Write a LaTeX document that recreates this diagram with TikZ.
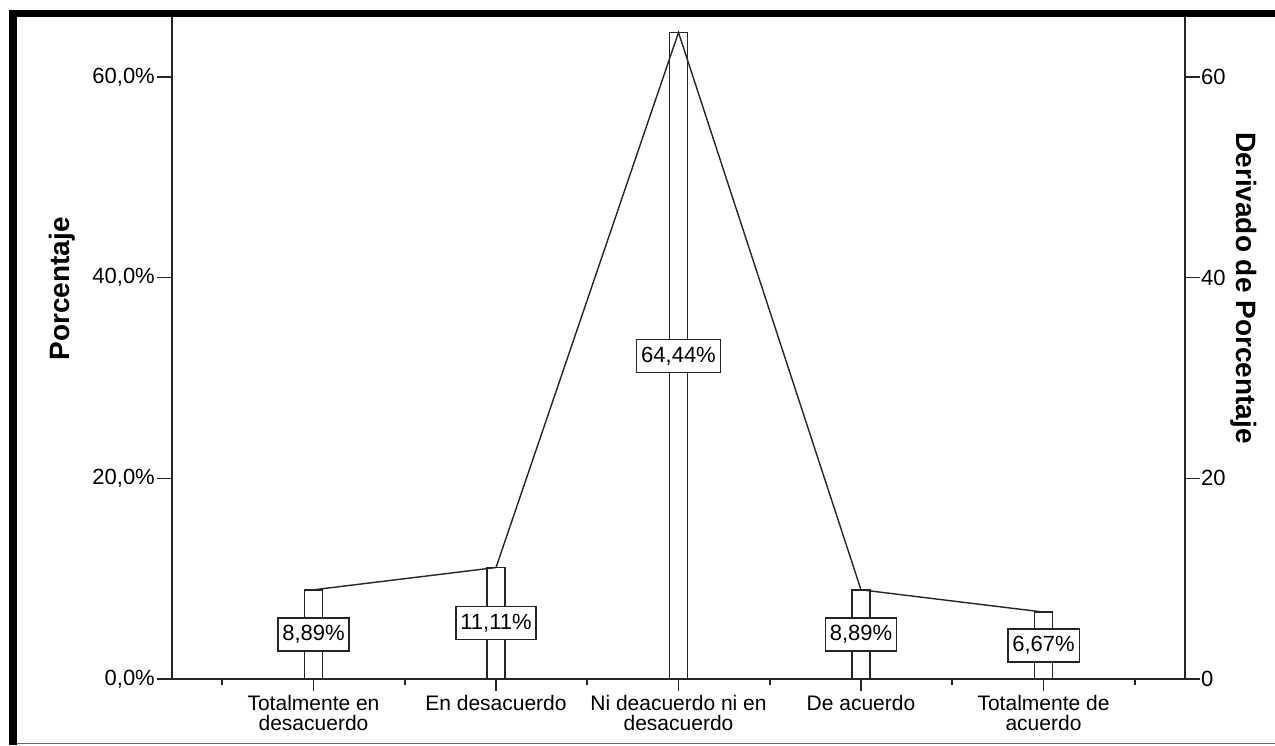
\documentclass[tikz,border=0pt]{standalone}
\usepackage{fontspec}
\setmainfont{Liberation Sans}
\begin{document}
\begin{tikzpicture}[x=1pt,y=-1pt,
  axisline/.style={line width=1.6pt,draw=black!85},
  barbox/.style={line width=1.6pt,draw=black!85,fill=white},
  vallabel/.style={draw=black!85,line width=1.4pt,fill=white,inner xsep=4.5pt,inner ysep=0pt,minimum height=33pt,font=\fontsize{22}{24}\selectfont},
  ticklab/.style={font=\fontsize{22}{24}\selectfont,inner sep=0pt},
  catlab/.style={font=\fontsize{21}{20.5}\selectfont,align=center,inner sep=0pt,anchor=north},
  axtitle/.style={font=\fontsize{28}{30}\selectfont\bfseries,inner sep=0pt}]
\useasboundingbox (0,0) rectangle (1275,745);
\fill[white] (0,0) rectangle (1275,745);
% frame
\fill[black] (9,10) rectangle (1275,17);
\fill[black] (9,10) rectangle (17,745);
\draw[line width=1.5pt,black!60] (17,743.5) -- (1275,743.5);
% axes
\coordinate (o) at (172,679);
\coordinate (lt) at (172,17);
\coordinate (r0) at (1185,679);
\coordinate (rt) at (1185,17);
\draw[axisline] (lt) -- (o) -- (r0) -- (rt);
% y ticks
\foreach \v/\lab in {0/{0,0\%},20/{20,0\%},40/{40,0\%},60/{60,0\%}}{
  \pgfmathsetmacro{\yy}{679-\v*10.033}
  \draw[axisline] (157,\yy) -- (172,\yy);
  \node[ticklab,anchor=east] (yl\v) at (155,\yy) {\lab};
}
\foreach \v in {0,20,40,60}{
  \pgfmathsetmacro{\yy}{679-\v*10.033}
  \draw[axisline] (1185,\yy) -- (1200,\yy);
  \node[ticklab,anchor=west] (yr\v) at (1201,\yy) {\v};
}
% x ticks
\foreach \i in {0,...,5}{
  \pgfmathsetmacro{\xx}{222.25+\i*182.5}
  \draw[axisline] (\xx,679) -- (\xx,685);
}
% bars
\foreach \i/\v in {1/8.89,2/11.11,3/64.44,4/8.89,5/6.67}{
  \pgfmathsetmacro{\xx}{313.5+(\i-1)*182.5}
  \pgfmathsetmacro{\yy}{679-\v*10.033}
  \pgfmathsetmacro{\ym}{679-\v*5.0165}
  \draw[axisline] (\xx,679) -- (\xx,691);
  \draw[barbox] (\xx-9,679) rectangle (\xx+9,\yy);
  \coordinate (t\i) at (\xx,\yy);
  \coordinate (m\i) at (\xx,\ym);
}
\draw[line width=1.4pt,black!85] (t1) -- (t2) -- (t3) -- (t4) -- (t5);
\foreach \i/\lab in {1/{8,89\%},2/{11,11\%},3/{64,44\%},4/{8,89\%},5/{6,67\%}}{
  \node[vallabel] (v\i) at (m\i) {\lab};
}
% category labels
\node[catlab] (c1) at (313.5,695) {Totalmente en\\desacuerdo};
\node[catlab] (c2) at (496,695) {En desacuerdo};
\node[catlab] (c3) at (678.5,695) {Ni deacuerdo ni en\\desacuerdo};
\node[catlab] (c4) at (861,695) {De acuerdo};
\node[catlab] (c5) at (1043.5,695) {Totalmente de\\acuerdo};
% axis titles
\node[axtitle,rotate=90] (ytl) at (62,289) {Porcentaje};
\node[axtitle,rotate=-90] (ytr) at (1244,288) {Derivado de Porcentaje};
\end{tikzpicture}
\end{document}
